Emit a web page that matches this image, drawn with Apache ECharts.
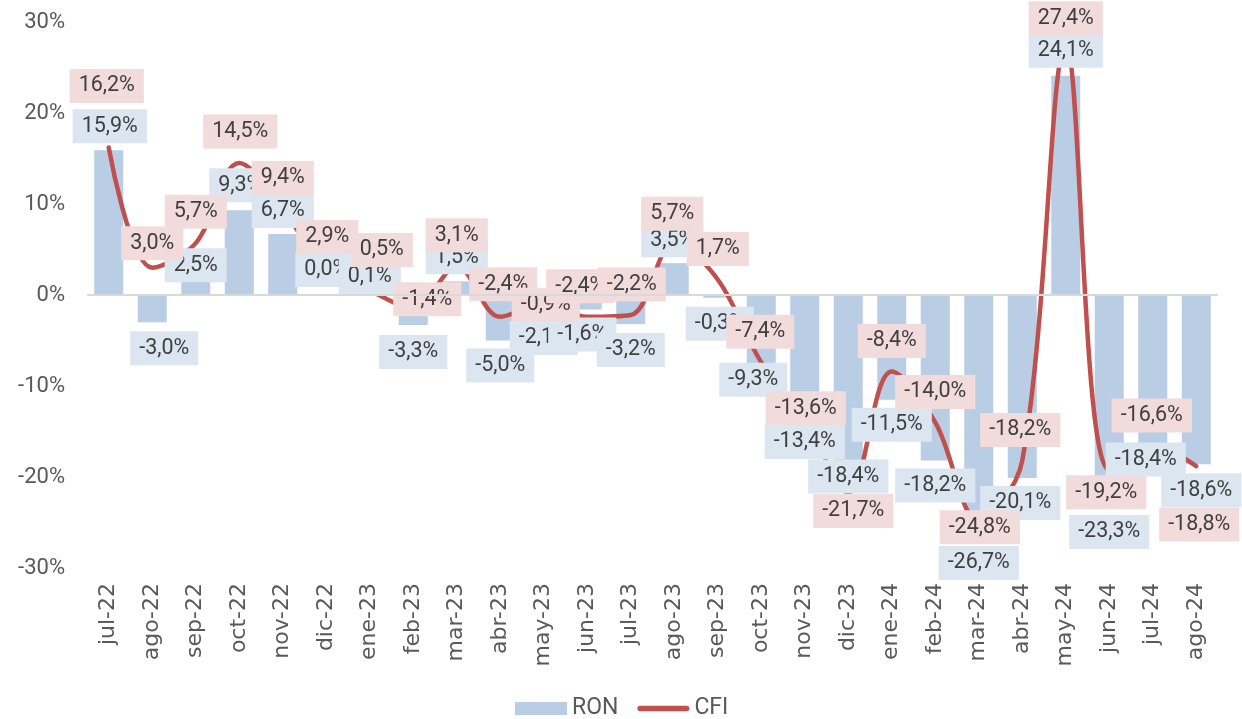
<!DOCTYPE html>
<html>
<head>
<meta charset="utf-8">
<script src="https://cdn.jsdelivr.net/npm/echarts@6/dist/echarts.min.js"></script>
<style>
html,body{margin:0;padding:0;background:#fff;}
#chart{width:1242px;height:719px;}
</style>
</head>
<body>
<div id="chart"></div>
<script>
// ---- data ----
const categories = ['jul-22','ago-22','sep-22','oct-22','nov-22','dic-22','ene-23','feb-23','mar-23','abr-23','may-23','jun-23','jul-23','ago-23','sep-23','oct-23','nov-23','dic-23','ene-24','feb-24','mar-24','abr-24','may-24','jun-24','jul-24','ago-24'];
const ronValues = [15.9,-3.0,2.5,9.3,6.7,0.0,0.1,-3.3,1.5,-5.0,-2.1,-1.6,-3.2,3.5,-0.3,-9.3,-13.4,-18.4,-11.5,-18.2,-26.7,-20.1,24.1,-23.3,-18.4,-18.6];
const cfiValues = [16.2,3.0,5.7,14.5,9.4,2.9,0.5,-1.4,3.1,-2.4,-0.9,-2.4,-2.2,5.7,1.7,-7.4,-13.6,-21.7,-8.4,-14.0,-24.8,-18.2,27.4,-19.2,-16.6,-18.8];
const yTickValues = {min: -30, max: 30, step: 10};

// ---- label layout nudges (pixels, relative to default label placement) ----
const ronLabelNudge = [[1,1],[12,1],[0,18],[1,0],[0,2],[0,0],[0,8],[0,2],[0,1],[0,0],[0,-1],[-5,0],[0,1],[-2,2],[2,1],[-8,-25],[0,0],[0,-11],[0,0],[0,0],[0,0],[-2,0],[0,0],[0,0],[-7,-28],[5,1]];
const cfiLabelNudge = [[-2,-31],[0,6],[0,-1],[1,-1],[0,-1],[1,-1],[12,-10],[14,22],[0,-1],[3,-2],[2,32],[-7,0],[1,0],[-2,1],[0,0],[-1,0],[1,20],[5,49],[0,0],[0,0],[1,37],[-2,0],[0,3],[-3,53],[-1,0],[3,89]];

const fmt = v => v.toFixed(1).replace('.', ',') + '%';
const labelFont = {fontFamily: 'Roboto', fontSize: 21.5, lineHeight: 22, color: '#404040', padding: [6, 9]};

const chart = echarts.init(document.getElementById('chart'), null, {renderer: 'canvas'});

const ronLabelData = ronValues.map((v, i) => ({
  value: v,
  label: {position: v >= 0 ? 'top' : 'bottom', offset: ronLabelNudge[i]}
}));
const cfiLabelData = cfiValues.map((v, i) => ({
  value: v,
  label: {position: 'top', offset: cfiLabelNudge[i]}
}));

const option = {
  animation: false,
  backgroundColor: '#ffffff',
  grid: {left: 87, right: 24, top: 22, bottom: 151, containLabel: false},
  legend: {
    left: 510, top: 692,
    itemWidth: 52, itemHeight: 13, itemGap: 19,
    textStyle: {fontFamily: 'Roboto', fontSize: 23, color: '#595959'},
    selectedMode: false,
    data: [
      {name: 'RON', icon: 'rect', itemStyle: {color: '#b9cde5'}},
      {name: 'CFI', icon: 'path://M3,0 L53,0 A3,3 0 0 1 53,6 L3,6 A3,3 0 0 1 3,0 Z', itemStyle: {color: '#c0504d'}}
    ]
  },
  xAxis: {
    type: 'category',
    data: categories,
    boundaryGap: true,
    axisLine: {show: false, onZero: false},
    axisTick: {show: false},
    axisLabel: {rotate: 90, margin: 15, fontFamily: 'DejaVu Sans', fontSize: 22, color: '#595959', interval: 0}
  },
  yAxis: {
    type: 'value',
    min: yTickValues.min, max: yTickValues.max, interval: yTickValues.step,
    axisLine: {show: false},
    axisTick: {show: false},
    splitLine: {show: false},
    axisLabel: {formatter: '{value}%', margin: 22, fontFamily: 'Roboto', fontSize: 22, color: '#595959'}
  },
  series: [
    {
      name: 'RON', type: 'bar', data: ronValues, z: 1,
      barWidth: 29, barGap: '-100%',
      itemStyle: {color: '#b9cde5'},
      emphasis: {disabled: true},
      silent: true,
      markLine: {
        silent: true, symbol: ['none', 'none'], label: {show: false},
        lineStyle: {color: '#d9d9d9', width: 2, type: 'solid'},
        data: [{yAxis: 0}]
      }
    },
    {
      name: 'CFI', type: 'line', data: cfiValues, z: 2,
      smooth: 0.35, symbol: 'none',
      color: '#c0504d',
      lineStyle: {color: '#c0504d', width: 4.5, cap: 'round', join: 'round'},
      itemStyle: {color: '#c0504d'},
      emphasis: {disabled: true},
      silent: true
    },
    {
      name: 'RON labels', type: 'bar', data: ronLabelData, z: 3,
      barWidth: 29, barGap: '-100%',
      itemStyle: {color: 'rgba(0,0,0,0)'},
      emphasis: {disabled: true}, silent: true,
      label: Object.assign({show: true, distance: 8, backgroundColor: '#dce6f1', formatter: p => fmt(p.value)}, labelFont)
    },
    {
      name: 'CFI labels', type: 'line', data: cfiLabelData, z: 4,
      symbol: 'circle', symbolSize: 1,
      itemStyle: {color: 'rgba(0,0,0,0)'},
      lineStyle: {width: 0, opacity: 0},
      emphasis: {disabled: true}, silent: true,
      label: Object.assign({show: true, distance: 13, backgroundColor: '#f2dcdb', formatter: p => fmt(p.value)}, labelFont)
    }
  ]
};
chart.setOption(option);
</script>
</body>
</html>
